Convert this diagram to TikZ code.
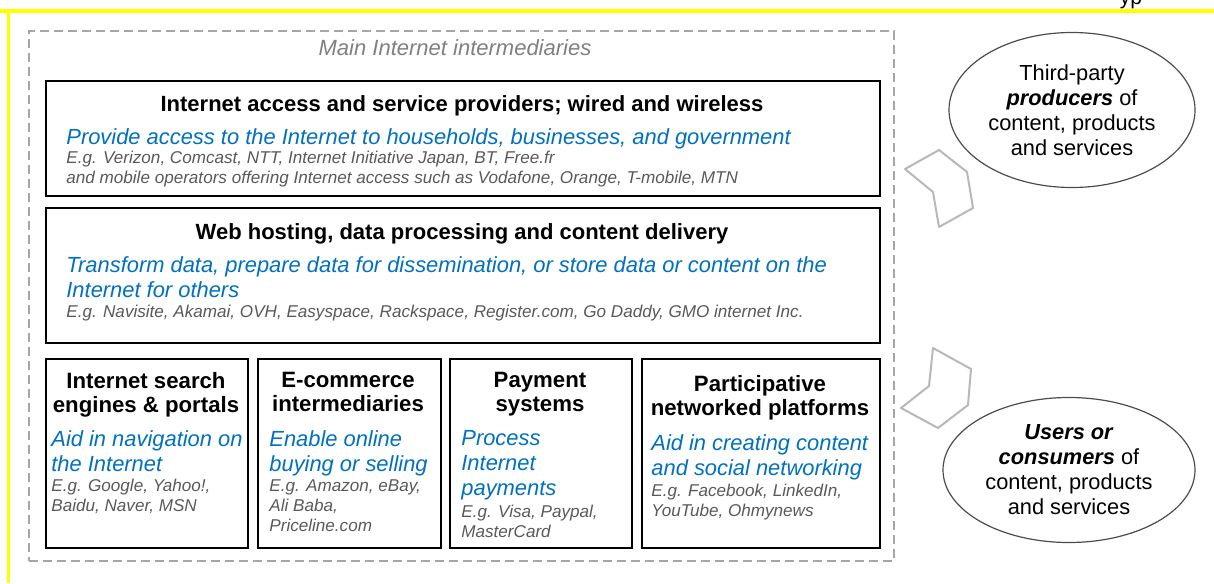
\documentclass[tikz,border=0pt]{standalone}
\usepackage{fontspec}
\setmainfont{Liberation Sans}
\usetikzlibrary{shapes.geometric}
\definecolor{linkblue}{RGB}{0,112,192}
\definecolor{textgray}{RGB}{89,89,89}
\definecolor{marker}{RGB}{255,255,0}

\begin{document}
\begin{tikzpicture}[x=0.5pt,y=-0.5pt]
	\tikzset{box/.style = {draw, line width=0.9pt, anchor=north west, inner sep=0pt},
		frame/.style = {draw=black!35, line width=0.8pt, dash pattern=on 4.5pt off 2.5pt, anchor=north west, inner sep=0pt},
		head/.style = {font=\fontsize{11}{12}\selectfont\bfseries, align=center, inner sep=0pt, anchor=north},
		subhead/.style = {font=\fontsize{11.1}{12}\selectfont\bfseries, align=center, inner sep=0pt, anchor=north},
		aim/.style = {font=\fontsize{10.95}{12.5}\selectfont\itshape, text=linkblue, align=left, inner sep=0pt, anchor=north west},
		example/.style = {font=\fontsize{8.55}{10}\selectfont\itshape, text=textgray, align=left, inner sep=0pt, anchor=north west},
		party/.style = {ellipse, draw=black!70, line width=0.6pt, align=center, font=\fontsize{10.9}{12.5}\selectfont, inner sep=0pt},
		flow/.style = {draw=black!28, line width=1pt, line join=round}}

	\useasboundingbox (0,0) rectangle (1214,583);

	% page marks
	\draw[marker, line width=2pt] (0,11) -- (1214,11);
	\draw[marker, line width=1.5pt] (8,11) -- (8,583);
	\node[font=\fontsize{10.5}{12}\selectfont, anchor=base, inner sep=0pt] (cut) at (1131,5) {yp};

	% main intermediaries
	\node[frame, minimum width=432.5pt, minimum height=265pt] (main) at (28,30) {};
	\node[font=\fontsize{11}{12}\selectfont\itshape, text=black!50, inner sep=0pt] (main_t) at (455,48) {Main Internet intermediaries};

	\node[box, minimum width=417pt, minimum height=57.5pt] (access) at (45,80) {};
	\node[head] (access_h) at (462,95) {Internet access and service providers; wired and wireless};
	\node[aim] (access_a) at (66,128) {Provide access to the Internet to households, businesses, and government};
	\node[example] (access_e) at (66,151) {E.g. Verizon, Comcast, NTT, Internet Initiative Japan, BT, Free.fr\\
		and mobile operators offering Internet access such as Vodafone, Orange, T-mobile, MTN};

	\node[box, minimum width=417pt, minimum height=67.5pt] (hosting) at (45,207) {};
	\node[head] (hosting_h) at (462,223) {Web hosting, data processing and content delivery};
	\node[aim] (hosting_a) at (66,256) {Transform data, prepare data for dissemination, or store data or content on the\\
		Internet for others};
	\node[example] (hosting_e) at (66,305) {E.g. Navisite, Akamai, OVH, Easyspace, Rackspace, Register.com, Go Daddy, GMO internet Inc.};

	\node[box, minimum width=101pt, minimum height=94.5pt] (search) at (45,358) {};
	\node[subhead] (search_h) at (146,372) {Internet search\\ engines \& portals};
	\node[aim] (search_a) at (51,430) {Aid in navigation on\\ the Internet};
	\node[example] (search_e) at (51,479) {E.g. Google, Yahoo!,\\ Baidu, Naver, MSN};

	\node[box, minimum width=91.5pt, minimum height=94.5pt] (commerce) at (257,358) {};
	\node[subhead] (commerce_h) at (348,372) {E-commerce\\ intermediaries};
	\node[aim] (commerce_a) at (269,430) {Enable online\\ buying or selling};
	\node[example] (commerce_e) at (269,479) {E.g. Amazon, eBay,\\ Ali Baba,\\ Priceline.com};

	\node[box, minimum width=91pt, minimum height=94.5pt] (payment) at (449,358) {};
	\node[subhead] (payment_h) at (540,372) {Payment\\ systems};
	\node[aim] (payment_a) at (461,430) {Process\\ Internet\\ payments};
	\node[example] (payment_e) at (461,505) {E.g. Visa, Paypal,\\ MasterCard};

	\node[box, minimum width=119pt, minimum height=94.5pt] (platforms) at (641,358) {};
	\node[subhead] (platforms_h) at (760,375) {Participative\\ networked platforms};
	\node[aim] (platforms_a) at (651,434) {Aid in creating content\\ and social networking};
	\node[example] (platforms_e) at (651,484) {E.g. Facebook, LinkedIn,\\ YouTube, Ohmynews};

	% producers and users
	\node[party, minimum width=123pt, minimum height=77.5pt] (producers) at (1072,110) {Third-party\\ \textbf{\textit{producers}} of\\ content, products\\ and services};
	\node[party, minimum width=126pt, minimum height=72.5pt] (users) at (1069,470) {\textbf{\textit{Users or}}\\ \textbf{\textit{consumers}} of\\ content, products\\ and services};

	% flows
	\draw[flow] (905,169) -- (939,150) -- (967,172) -- (973,208) -- (939,227) -- (933,192) -- cycle;
	\draw[flow] (933,348) -- (971,369) -- (968,405) -- (938,428) -- (901,408) -- (929,386) -- cycle;

\end{tikzpicture}
\end{document}
